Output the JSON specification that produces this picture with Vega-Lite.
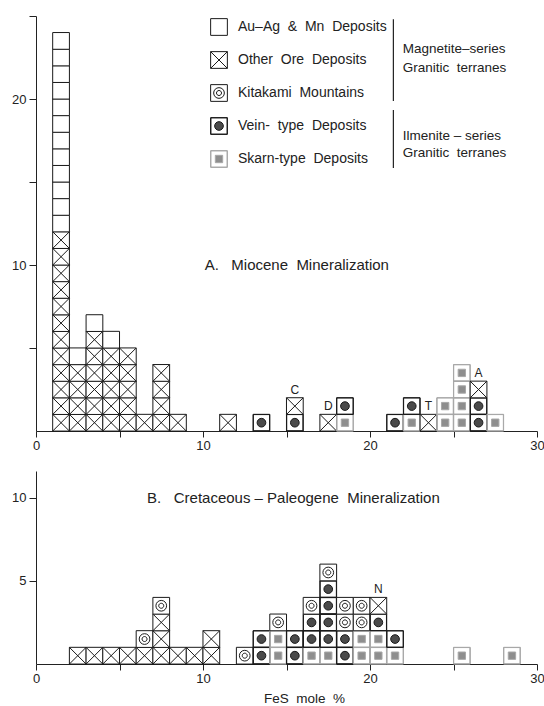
{
  "$schema": "https://vega.github.io/schema/vega-lite/v6.json",
  "background": "white",
  "padding": {"left": 11, "top": 15, "right": 0, "bottom": 0},
  "config": {
    "view": {"stroke": null},
    "font": "Liberation Sans",
    "concat": {"spacing": 19},
    "axis": {"grid": false, "domainColor": "#222", "tickColor": "#222", "labelColor": "#222", "labelFontSize": 13, "labelFont": "Liberation Sans", "titleFont": "Liberation Sans", "titleFontWeight": "normal", "titleColor": "#222", "domainWidth": 1, "tickWidth": 1},
    "legend": {"symbolSize": 280, "symbolStrokeWidth": 1, "labelFontSize": 14, "labelFont": "Liberation Sans", "labelColor": "#222", "labelOffset": 10, "rowPadding": 11, "padding": 0, "symbolOffset": 0}
  },
  "datasets": {
    "miocene": [
      {"fes":1,"n":1,"t":"o"},{"fes":1,"n":2,"t":"o"},{"fes":1,"n":3,"t":"o"},{"fes":1,"n":4,"t":"o"},{"fes":1,"n":5,"t":"o"},{"fes":1,"n":6,"t":"o"},{"fes":1,"n":7,"t":"o"},{"fes":1,"n":8,"t":"o"},{"fes":1,"n":9,"t":"o"},{"fes":1,"n":10,"t":"o"},{"fes":1,"n":11,"t":"o"},{"fes":1,"n":12,"t":"o"},
      {"fes":1,"n":13,"t":"a"},{"fes":1,"n":14,"t":"a"},{"fes":1,"n":15,"t":"a"},{"fes":1,"n":16,"t":"a"},{"fes":1,"n":17,"t":"a"},{"fes":1,"n":18,"t":"a"},{"fes":1,"n":19,"t":"a"},{"fes":1,"n":20,"t":"a"},{"fes":1,"n":21,"t":"a"},{"fes":1,"n":22,"t":"a"},{"fes":1,"n":23,"t":"a"},{"fes":1,"n":24,"t":"a"},
      {"fes":2,"n":1,"t":"o"},{"fes":2,"n":2,"t":"o"},{"fes":2,"n":3,"t":"o"},{"fes":2,"n":4,"t":"o"},{"fes":2,"n":5,"t":"a"},
      {"fes":3,"n":1,"t":"o"},{"fes":3,"n":2,"t":"o"},{"fes":3,"n":3,"t":"o"},{"fes":3,"n":4,"t":"o"},{"fes":3,"n":5,"t":"o"},{"fes":3,"n":6,"t":"o"},{"fes":3,"n":7,"t":"a"},
      {"fes":4,"n":1,"t":"o"},{"fes":4,"n":2,"t":"o"},{"fes":4,"n":3,"t":"o"},{"fes":4,"n":4,"t":"o"},{"fes":4,"n":5,"t":"o"},{"fes":4,"n":6,"t":"a"},
      {"fes":5,"n":1,"t":"o"},{"fes":5,"n":2,"t":"o"},{"fes":5,"n":3,"t":"o"},{"fes":5,"n":4,"t":"o"},{"fes":5,"n":5,"t":"o"},
      {"fes":6,"n":1,"t":"o"},
      {"fes":7,"n":1,"t":"o"},{"fes":7,"n":2,"t":"o"},{"fes":7,"n":3,"t":"o"},{"fes":7,"n":4,"t":"o"},
      {"fes":8,"n":1,"t":"o"},
      {"fes":11,"n":1,"t":"o"},
      {"fes":13,"n":1,"t":"v"},
      {"fes":15,"n":1,"t":"v"},{"fes":15,"n":2,"t":"o","note":"C"},
      {"fes":17,"n":1,"t":"o","note":"D"},
      {"fes":18,"n":1,"t":"s"},{"fes":18,"n":2,"t":"v"},
      {"fes":21,"n":1,"t":"v"},
      {"fes":22,"n":1,"t":"s"},{"fes":22,"n":2,"t":"v"},
      {"fes":23,"n":1,"t":"o","note":"T"},
      {"fes":24,"n":1,"t":"s"},{"fes":24,"n":2,"t":"s"},
      {"fes":25,"n":1,"t":"s"},{"fes":25,"n":2,"t":"s"},{"fes":25,"n":3,"t":"s"},{"fes":25,"n":4,"t":"s"},
      {"fes":26,"n":1,"t":"v"},{"fes":26,"n":2,"t":"v"},{"fes":26,"n":3,"t":"o","note":"A"},
      {"fes":27,"n":1,"t":"s"}
    ],
    "cretaceous": [
      {"fes":2,"n":1,"t":"o"},{"fes":3,"n":1,"t":"o"},{"fes":4,"n":1,"t":"o"},{"fes":5,"n":1,"t":"o"},
      {"fes":6,"n":1,"t":"o"},{"fes":6,"n":2,"t":"k"},
      {"fes":7,"n":1,"t":"o"},{"fes":7,"n":2,"t":"o"},{"fes":7,"n":3,"t":"o"},{"fes":7,"n":4,"t":"k"},
      {"fes":8,"n":1,"t":"o"},{"fes":9,"n":1,"t":"o"},
      {"fes":10,"n":1,"t":"o"},{"fes":10,"n":2,"t":"o"},
      {"fes":12,"n":1,"t":"k"},
      {"fes":13,"n":1,"t":"v"},{"fes":13,"n":2,"t":"v"},
      {"fes":14,"n":1,"t":"s"},{"fes":14,"n":2,"t":"s"},{"fes":14,"n":3,"t":"k"},
      {"fes":15,"n":1,"t":"v"},{"fes":15,"n":2,"t":"v"},
      {"fes":16,"n":1,"t":"s"},{"fes":16,"n":2,"t":"v"},{"fes":16,"n":3,"t":"v"},{"fes":16,"n":4,"t":"k"},
      {"fes":17,"n":1,"t":"s"},{"fes":17,"n":2,"t":"v"},{"fes":17,"n":3,"t":"v"},{"fes":17,"n":4,"t":"v"},{"fes":17,"n":5,"t":"v"},{"fes":17,"n":6,"t":"k"},
      {"fes":18,"n":1,"t":"v"},{"fes":18,"n":2,"t":"v"},{"fes":18,"n":3,"t":"k"},{"fes":18,"n":4,"t":"k"},
      {"fes":19,"n":1,"t":"s"},{"fes":19,"n":2,"t":"s"},{"fes":19,"n":3,"t":"k"},{"fes":19,"n":4,"t":"k"},
      {"fes":20,"n":1,"t":"s"},{"fes":20,"n":2,"t":"s"},{"fes":20,"n":3,"t":"v"},{"fes":20,"n":4,"t":"o","note":"N"},
      {"fes":21,"n":1,"t":"s"},{"fes":21,"n":2,"t":"v"},
      {"fes":25,"n":1,"t":"s"},
      {"fes":28,"n":1,"t":"s"}
    ]
  },
  "resolve": {"scale": {"x": "independent", "y": "independent"}, "axis": {"x": "independent", "y": "independent"}},
  "vconcat": [
    {
      "width": 501,
      "height": 415,
      "data": {"name": "miocene"},
      "transform": [
        {"calculate": "datum.fes + 0.5", "as": "xc"},
        {"calculate": "datum.n - 0.5", "as": "yc"}
      ],
      "layer": [
        {
          "mark": {"type": "point", "filled": true, "strokeWidth": 1, "opacity": 1, "size": 280},
          "encoding": {
            "x": {"field": "xc", "type": "quantitative", "scale": {"domain": [0, 30], "nice": false, "zero": false},
                  "axis": {"values": [0, 5, 10, 15, 20, 25, 30], "labelExpr": "datum.value % 10 == 0 ? datum.label : ''", "title": null, "tickSize": 6, "labelPadding": 2, "labelFlush": false}},
            "y": {"field": "yc", "type": "quantitative", "scale": {"domain": [0, 25], "nice": false},
                  "axis": {"values": [5, 10, 15, 20, 25], "labelExpr": "datum.value % 10 == 0 ? datum.label : ''", "title": null, "tickSize": 7, "labelPadding": 3}},
            "shape": {"field": "t", "type": "nominal",
                      "scale": {"domain": ["a", "o", "k", "v", "s"], "range": [
                        "M-1,-1H1V1H-1Z",
                        "M-1,-1H1V1H-1Z M-1,-1L1,1 M1,-1L-1,1",
                        "M-1,-1H1V1H-1Z M0.64,0A0.64 0.64 0 1 1 -0.64,0A0.64 0.64 0 1 1 0.64,0Z M0.3,0A0.3 0.3 0 1 1 -0.3,0A0.3 0.3 0 1 1 0.3,0Z",
                        "M-1,-1H1V1H-1Z M-0.97,-0.97V0.97H0.97V-0.97Z M0.52,0A0.52 0.52 0 1 1 -0.52,0A0.52 0.52 0 1 1 0.52,0Z",
                        "M-1,-1H1V1H-1Z M-0.97,-0.97V0.97H0.97V-0.97Z M-0.44,-0.44H0.44V0.44H-0.44Z"]},
                      "legend": {"title": null, "orient": "none", "legendX": 174, "legendY": 2, "labelExpr": "datum.label == 'a' ? 'Au–Ag \u00a0& \u00a0Mn \u00a0Deposits' : datum.label == 'o' ? 'Other \u00a0Ore \u00a0Deposits' : datum.label == 'k' ? 'Kitakami \u00a0Mountains' : datum.label == 'v' ? 'Vein- \u00a0type \u00a0Deposits' : 'Skarn-type \u00a0Deposits'"}},
            "fill": {"field": "t", "type": "nominal",
                     "scale": {"domain": ["a", "o", "k", "v", "s"], "range": ["#ffffff", "#ffffff", "#ffffff", "#4a4a4a", "#8e8e8e"]},
                     "legend": {"title": null, "orient": "none", "legendX": 174, "legendY": 2, "labelExpr": "datum.label == 'a' ? 'Au–Ag \u00a0& \u00a0Mn \u00a0Deposits' : datum.label == 'o' ? 'Other \u00a0Ore \u00a0Deposits' : datum.label == 'k' ? 'Kitakami \u00a0Mountains' : datum.label == 'v' ? 'Vein- \u00a0type \u00a0Deposits' : 'Skarn-type \u00a0Deposits'"}},
            "stroke": {"field": "t", "type": "nominal",
                       "scale": {"domain": ["a", "o", "k", "v", "s"], "range": ["#1a1a1a", "#1a1a1a", "#1a1a1a", "#1a1a1a", "#a8a8a8"]},
                       "legend": {"title": null, "orient": "none", "legendX": 174, "legendY": 2, "labelExpr": "datum.label == 'a' ? 'Au–Ag \u00a0& \u00a0Mn \u00a0Deposits' : datum.label == 'o' ? 'Other \u00a0Ore \u00a0Deposits' : datum.label == 'k' ? 'Kitakami \u00a0Mountains' : datum.label == 'v' ? 'Vein- \u00a0type \u00a0Deposits' : 'Skarn-type \u00a0Deposits'"}}
          }
        },
        {
          "transform": [{"filter": "datum.note"}],
          "mark": {"type": "text", "baseline": "bottom", "dy": -9.5, "fontSize": 12, "font": "Liberation Sans", "color": "#222"},
          "encoding": {
            "x": {"field": "xc", "type": "quantitative"},
            "y": {"field": "yc", "type": "quantitative"},
            "text": {"field": "note"}
          }
        },
        {
          "data": {"values": [{}]},
          "mark": {"type": "text", "align": "left", "baseline": "middle", "fontSize": 15, "font": "Liberation Sans", "color": "#222"},
          "encoding": {"x": {"datum": 10.1, "type": "quantitative"}, "y": {"datum": 10, "type": "quantitative"}, "text": {"value": "A.\u00a0\u00a0 Miocene\u00a0 Mineralization"}}
        },
        {
          "data": {"values": [{}]},
          "mark": {"type": "rule", "color": "#222", "strokeWidth": 1.2},
          "encoding": {"x": {"datum": 21.4, "type": "quantitative"}, "y": {"datum": 24.8, "type": "quantitative"}, "y2": {"datum": 19.88}}
        },
        {
          "data": {"values": [{}]},
          "mark": {"type": "rule", "color": "#222", "strokeWidth": 1.2},
          "encoding": {"x": {"datum": 21.4, "type": "quantitative"}, "y": {"datum": 19.34, "type": "quantitative"}, "y2": {"datum": 15.84}}
        },
        {
          "data": {"values": [{}]},
          "mark": {"type": "text", "align": "left", "baseline": "middle", "fontSize": 13.5, "font": "Liberation Sans", "color": "#222"},
          "encoding": {"x": {"datum": 21.96, "type": "quantitative"}, "y": {"datum": 22.99, "type": "quantitative"}, "text": {"value": "Magnetite–series"}}
        },
        {
          "data": {"values": [{}]},
          "mark": {"type": "text", "align": "left", "baseline": "middle", "fontSize": 13.5, "font": "Liberation Sans", "color": "#222"},
          "encoding": {"x": {"datum": 21.96, "type": "quantitative"}, "y": {"datum": 21.89, "type": "quantitative"}, "text": {"value": "Granitic\u00a0 terranes"}}
        },
        {
          "data": {"values": [{}]},
          "mark": {"type": "text", "align": "left", "baseline": "middle", "fontSize": 13.5, "font": "Liberation Sans", "color": "#222"},
          "encoding": {"x": {"datum": 21.96, "type": "quantitative"}, "y": {"datum": 17.77, "type": "quantitative"}, "text": {"value": "Ilmenite – series"}}
        },
        {
          "data": {"values": [{}]},
          "mark": {"type": "text", "align": "left", "baseline": "middle", "fontSize": 13.5, "font": "Liberation Sans", "color": "#222"},
          "encoding": {"x": {"datum": 21.96, "type": "quantitative"}, "y": {"datum": 16.77, "type": "quantitative"}, "text": {"value": "Granitic\u00a0 terranes"}}
        }
      ]
    },
    {
      "width": 501,
      "height": 193,
      "data": {"name": "cretaceous"},
      "transform": [
        {"calculate": "datum.fes + 0.5", "as": "xc"},
        {"calculate": "datum.n - 0.5", "as": "yc"}
      ],
      "layer": [
        {
          "mark": {"type": "point", "filled": true, "strokeWidth": 1, "opacity": 1, "size": 280},
          "encoding": {
            "x": {"field": "xc", "type": "quantitative", "scale": {"domain": [0, 30], "nice": false, "zero": false},
                  "axis": {"values": [0, 5, 10, 15, 20, 25, 30], "labelExpr": "datum.value % 10 == 0 ? datum.label : ''", "title": "FeS\u00a0 mole\u00a0 %", "titleFontSize": 13.5, "titlePadding": 6, "titleX": 268, "tickSize": 6, "labelPadding": 2, "labelFlush": false}},
            "y": {"field": "yc", "type": "quantitative", "scale": {"domain": [0, 11.6], "nice": false},
                  "axis": {"values": [5, 10], "title": null, "tickSize": 7, "labelPadding": 3}},
            "shape": {"field": "t", "type": "nominal",
                      "scale": {"domain": ["a", "o", "k", "v", "s"], "range": [
                        "M-1,-1H1V1H-1Z",
                        "M-1,-1H1V1H-1Z M-1,-1L1,1 M1,-1L-1,1",
                        "M-1,-1H1V1H-1Z M0.64,0A0.64 0.64 0 1 1 -0.64,0A0.64 0.64 0 1 1 0.64,0Z M0.3,0A0.3 0.3 0 1 1 -0.3,0A0.3 0.3 0 1 1 0.3,0Z",
                        "M-1,-1H1V1H-1Z M-0.97,-0.97V0.97H0.97V-0.97Z M0.52,0A0.52 0.52 0 1 1 -0.52,0A0.52 0.52 0 1 1 0.52,0Z",
                        "M-1,-1H1V1H-1Z M-0.97,-0.97V0.97H0.97V-0.97Z M-0.44,-0.44H0.44V0.44H-0.44Z"]},
                      "legend": {"title": null, "orient": "none", "legendX": 174, "legendY": 2, "labelExpr": "datum.label == 'a' ? 'Au–Ag \u00a0& \u00a0Mn \u00a0Deposits' : datum.label == 'o' ? 'Other \u00a0Ore \u00a0Deposits' : datum.label == 'k' ? 'Kitakami \u00a0Mountains' : datum.label == 'v' ? 'Vein- \u00a0type \u00a0Deposits' : 'Skarn-type \u00a0Deposits'"}},
            "fill": {"field": "t", "type": "nominal",
                     "scale": {"domain": ["a", "o", "k", "v", "s"], "range": ["#ffffff", "#ffffff", "#ffffff", "#4a4a4a", "#8e8e8e"]},
                     "legend": {"title": null, "orient": "none", "legendX": 174, "legendY": 2, "labelExpr": "datum.label == 'a' ? 'Au–Ag \u00a0& \u00a0Mn \u00a0Deposits' : datum.label == 'o' ? 'Other \u00a0Ore \u00a0Deposits' : datum.label == 'k' ? 'Kitakami \u00a0Mountains' : datum.label == 'v' ? 'Vein- \u00a0type \u00a0Deposits' : 'Skarn-type \u00a0Deposits'"}},
            "stroke": {"field": "t", "type": "nominal",
                       "scale": {"domain": ["a", "o", "k", "v", "s"], "range": ["#1a1a1a", "#1a1a1a", "#1a1a1a", "#1a1a1a", "#a8a8a8"]},
                       "legend": {"title": null, "orient": "none", "legendX": 174, "legendY": 2, "labelExpr": "datum.label == 'a' ? 'Au–Ag \u00a0& \u00a0Mn \u00a0Deposits' : datum.label == 'o' ? 'Other \u00a0Ore \u00a0Deposits' : datum.label == 'k' ? 'Kitakami \u00a0Mountains' : datum.label == 'v' ? 'Vein- \u00a0type \u00a0Deposits' : 'Skarn-type \u00a0Deposits'"}}
          }
        },
        {
          "transform": [{"filter": "datum.note"}],
          "mark": {"type": "text", "baseline": "bottom", "dy": -9.5, "fontSize": 12, "font": "Liberation Sans", "color": "#222"},
          "encoding": {
            "x": {"field": "xc", "type": "quantitative"},
            "y": {"field": "yc", "type": "quantitative"},
            "text": {"field": "note"}
          }
        },
        {
          "data": {"values": [{}]},
          "mark": {"type": "text", "align": "left", "baseline": "middle", "fontSize": 15, "font": "Liberation Sans", "color": "#222"},
          "encoding": {"x": {"datum": 6.65, "type": "quantitative"}, "y": {"datum": 10, "type": "quantitative"}, "text": {"value": "B.\u00a0\u00a0 Cretaceous – Paleogene\u00a0 Mineralization"}}
        }
      ]
    }
  ]
}
